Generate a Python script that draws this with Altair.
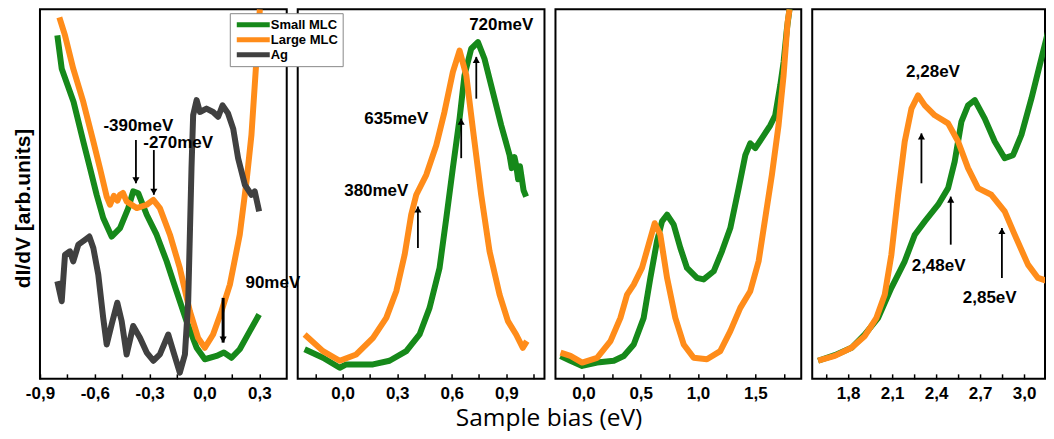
import altair as alt
import pandas as pd

# ---------------- data (y in arbitrary units 0..100) ----------------
# Panel 1
p1_small_x = [-0.805,-0.781,-0.716,-0.663,-0.626,-0.590,-0.554,-0.508,-0.462,-0.417,-0.390,-0.362,-0.316,-0.262,-0.207,-0.153,-0.098,-0.043,0.002,0.066,0.106,0.148,0.193,0.248,0.299]
p1_small_y = [92.9,83.9,74.9,64.2,57.0,49.8,43.5,38.5,40.8,46.2,50.7,50.2,44.4,39.0,31.8,23.7,15.6,8.4,5.3,6.2,7.1,5.7,8.0,12.9,17.4]
p1_large_x = [-0.794,-0.763,-0.718,-0.663,-0.608,-0.572,-0.535,-0.517,-0.496,-0.476,-0.462,-0.446,-0.426,-0.371,-0.316,-0.280,-0.244,-0.189,-0.135,-0.080,-0.035,0.002,0.047,0.093,0.139,0.193,0.230,0.257,0.275,0.293,0.303]
p1_large_y = [97.8,92.9,83.9,74.9,64.2,57.0,49.3,47.1,49.5,48.2,49.8,50.3,48.0,46.2,47.1,48.4,46.2,39.0,30.0,18.3,11.1,8.4,12.0,18.3,25.5,39.0,53.4,66.0,79.4,92.9,100.0]
p1_ag_x = [-0.805,-0.781,-0.763,-0.736,-0.718,-0.690,-0.654,-0.630,-0.608,-0.581,-0.554,-0.535,-0.508,-0.477,-0.453,-0.426,-0.390,-0.353,-0.316,-0.280,-0.244,-0.198,-0.171,-0.135,-0.107,-0.089,-0.071,-0.062,-0.043,-0.025,0.011,0.047,0.075,0.099,0.129,0.157,0.184,0.221,0.257,0.275,0.299]
p1_ag_y = [26.4,21.0,33.6,34.5,31.8,36.3,37.6,38.5,35.4,28.2,16.5,9.3,14.7,20.6,15.6,6.6,14.3,11.1,7.1,4.9,6.6,12.0,7.5,1.7,6.6,21.0,57.0,71.3,75.4,72.2,73.1,72.2,70.9,74.0,71.8,67.7,59.7,52.5,49.8,50.7,45.3]

# Panel 2
p2_small_x = [-0.209,-0.108,-0.016,0.020,0.167,0.258,0.350,0.423,0.478,0.533,0.570,0.606,0.643,0.670,0.707,0.744,0.780,0.826,0.872,0.918,0.930,0.945,0.954,0.965,0.975,0.982,0.995,1.009]
p2_small_y = [8.0,5.7,3.0,3.9,3.9,4.9,7.5,12.0,19.2,30.0,43.5,57.0,70.4,82.1,89.3,91.1,86.6,77.6,68.6,60.5,57.0,60.0,57.9,54.0,57.5,55.2,51.0,49.3]
p2_large_x = [-0.209,-0.108,-0.016,0.075,0.167,0.240,0.295,0.341,0.377,0.405,0.460,0.515,0.560,0.606,0.643,0.680,0.716,0.762,0.808,0.863,0.909,0.954,0.991,1.013]
p2_large_y = [12.0,7.5,4.9,6.6,11.1,16.5,23.7,33.6,44.4,49.8,55.2,63.2,72.2,83.0,88.8,82.1,67.7,49.8,34.5,22.8,15.6,12.0,8.4,10.2]

# Panel 3
p3_small_x = [-0.20,-0.113,-0.011,0.119,0.265,0.352,0.439,0.526,0.584,0.642,0.686,0.730,0.788,0.846,0.904,0.991,1.049,1.137,1.209,1.282,1.355,1.413,1.456,1.500,1.558,1.631,1.674,1.718,1.747,1.776,1.799]
p3_small_y = [6.2,4.9,3.5,4.4,4.9,6.2,9.3,16.5,27.3,37.2,42.6,44.4,41.7,35.4,30.0,27.3,26.9,29.1,34.5,40.8,51.6,60.5,63.7,62.4,65.1,68.6,71.3,79.4,85.7,94.7,100.1]
p3_large_x = [-0.20,-0.113,-0.011,0.119,0.236,0.323,0.381,0.439,0.511,0.569,0.622,0.671,0.730,0.802,0.875,0.962,1.078,1.194,1.282,1.369,1.456,1.529,1.587,1.645,1.703,1.747,1.782,1.799]
p3_large_y = [7.1,6.2,4.4,5.7,10.2,16.5,22.8,25.5,30.0,36.3,42.1,39.0,27.3,16.5,9.3,5.7,5.3,7.5,12.9,19.2,23.7,31.8,43.5,55.2,68.6,82.1,96.5,100.0]

# Panel 4
p4_small_x = [1.595,1.709,1.823,1.914,2.005,2.095,2.186,2.255,2.323,2.414,2.482,2.527,2.573,2.618,2.664,2.732,2.800,2.868,2.925,2.982,3.050,3.118,3.175]
p4_small_y = [4.9,6.4,8.4,12.0,16.5,24.6,31.8,39.0,42.6,47.1,51.6,58.8,69.6,74.0,75.4,70.4,64.2,59.7,60.5,66.0,75.8,86.6,95.6]
p4_large_x = [1.595,1.709,1.823,1.914,1.993,2.050,2.095,2.141,2.186,2.232,2.277,2.323,2.391,2.482,2.550,2.618,2.686,2.777,2.868,2.936,3.027,3.095,3.164,3.186]
p4_large_y = [4.9,6.2,8.4,11.6,16.5,22.8,33.6,49.8,64.2,73.1,76.7,74.0,71.3,69.1,64.2,57.0,51.6,49.8,45.3,39.0,30.9,27.3,26.4,28.2]

# annotations: arrows (x, tail y, tip y, thickness) and labels (x, y, text)
p1_arrow_x = [-0.375, -0.277, 0.102]
p1_arrow_tail = [64.6, 61.9, 21.9]
p1_arrow_tip = [52.9, 49.8, 9.8]
p1_arrow_w = [1.8, 1.8, 3.0]
p1_label_x = [-0.362, -0.144, 0.374]
p1_label_y = [68.5, 63.7, 26.0]
p1_label_t = ["-390meV", "-270meV", "90meV"]

p2_arrow_x = [0.414, 0.652, 0.735]
p2_arrow_tail = [35.4, 59.7, 75.8]
p2_arrow_tip = [46.6, 70.4, 87.1]
p2_arrow_w = [1.8, 1.8, 1.8]
p2_label_x = [0.185, 0.295, 0.872]
p2_label_y = [50.7, 70.4, 95.6]
p2_label_t = ["380meV", "635meV", "720meV"]

p4_arrow_x = [2.300, 2.500, 2.849]
p4_arrow_tail = [52.9, 36.3, 27.3]
p4_arrow_tip = [66.4, 49.3, 40.8]
p4_arrow_w = [1.8, 1.8, 1.8]
p4_label_x = [2.379, 2.417, 2.766]
p4_label_y = [83.0, 30.5, 21.9]
p4_label_t = ["2,28eV", "2,48eV", "2,85eV"]

series_names = ["Small MLC", "Large MLC", "Ag"]
series_colors = ["#16891a", "#ff8c1a", "#404040"]

# ---------------- helpers ----------------
color_scale = alt.Scale(domain=series_names, range=series_colors)
legend = alt.Legend(title=None, orient="none", legendX=190, legendY=4,
                    symbolType="M-5.5,0H5.5", symbolSize=36, symbolStrokeWidth=5,
                    symbolOffset=13, labelOffset=11, clipHeight=15,
                    labelFont="Liberation Sans", labelFontWeight="bold", labelFontSize=13,
                    labelColor="black", strokeColor="#888888", fillColor="white",
                    padding=4, rowPadding=0)

YSCALE = alt.Scale(domain=[0, 100], nice=False, zero=False)


def make_xaxis(ticks, step):
    expr = ("abs(datum.value/%g - round(datum.value/%g)) < 0.001 ? "
            "replace(replace(format(datum.value, '.1f'), '.', ','), '\u2212', '-') : ''") % (step, step)
    return alt.Axis(values=ticks, labelExpr=expr, title=None, offset=-5, tickSize=5,
                    tickWidth=1.5, tickColor="black", domain=False, grid=False,
                    labelFont="Liberation Sans", labelFontWeight="bold", labelFontSize=17,
                    labelColor="black", labelPadding=7, labelOverlap=False, labelFlush=False)


def panel(series, domain, ticks, step, width, arrows=None, labels=None, yaxis=None):
    X = alt.X("x:Q", scale=alt.Scale(domain=domain, nice=False, zero=False),
              axis=make_xaxis(ticks, step))
    yenc = alt.Y("y:Q", scale=YSCALE, axis=yaxis)
    layers = []
    for name, xs, ys in series:
        df = pd.DataFrame({"x": xs, "y": ys, "series": name})
        layers.append(alt.Chart(df).mark_line(strokeWidth=6, clip=True, strokeJoin="round").encode(
            x=X, y=yenc, color=alt.Color("series:N", scale=color_scale, legend=legend)))
    if arrows is not None:
        ax, at, ap, aw = arrows
        adf = pd.DataFrame({"x": ax, "y": at, "y2": ap, "w": aw})
        adf["up"] = [p > t for t, p in zip(at, ap)]
        adf["hy"] = [p - 0.8 if p > t else p + 0.8 for t, p in zip(at, ap)]
        for w in sorted(set(aw)):
            layers.append(alt.Chart(adf[adf["w"] == w]).mark_rule(color="black", strokeWidth=w).encode(
                x=X, y=yenc, y2="y2:Q"))
        for up in (True, False):
            sub = adf[adf["up"] == up]
            if len(sub):
                layers.append(alt.Chart(sub).mark_point(
                    filled=True, color="black", opacity=1, size=50,
                    shape="triangle-up" if up else "triangle-down").encode(
                    x=X, y=alt.Y("hy:Q", scale=YSCALE, axis=yaxis)))
    if labels is not None:
        lx, ly, lt = labels
        ldf = pd.DataFrame({"x": lx, "y": ly, "t": lt})
        layers.append(alt.Chart(ldf).mark_text(font="Liberation Sans", fontWeight="bold",
                                               fontSize=17, color="black").encode(
            x=X, y=yenc, text="t:N"))
    return alt.layer(*layers).properties(width=width, height=370)


def steps(a, b, s):
    n = int(round((b - a) / s))
    return [round(a + i * s, 4) + 0.0 for i in range(n + 1)]


yaxis1 = alt.Axis(title="dI/dV [arb.units]", labels=False, ticks=False, domain=False, grid=False,
                  titleFont="Liberation Sans", titleFontWeight="bold", titleFontSize=21,
                  titleColor="black", titlePadding=6, titleY=199)

c1 = panel([("Small MLC", p1_small_x, p1_small_y), ("Large MLC", p1_large_x, p1_large_y),
            ("Ag", p1_ag_x, p1_ag_y)],
           [-0.9, 0.45], steps(-0.9, 0.3, 0.15), 0.3, 247,
           arrows=(p1_arrow_x, p1_arrow_tail, p1_arrow_tip, p1_arrow_w),
           labels=(p1_label_x, p1_label_y, p1_label_t), yaxis=yaxis1)
c2 = panel([("Small MLC", p2_small_x, p2_small_y), ("Large MLC", p2_large_x, p2_large_y)],
           [-0.247, 1.110], steps(-0.15, 1.05, 0.15), 0.3, 247,
           arrows=(p2_arrow_x, p2_arrow_tail, p2_arrow_tip, p2_arrow_w),
           labels=(p2_label_x, p2_label_y, p2_label_t))
c3 = panel([("Small MLC", p3_small_x, p3_small_y), ("Large MLC", p3_large_x, p3_large_y)],
           [-0.244, 1.901], steps(0.0, 1.75, 0.25), 0.5, 246)
c4 = panel([("Small MLC", p4_small_x, p4_small_y), ("Large MLC", p4_large_x, p4_large_y)],
           [1.555, 3.143], steps(1.65, 3.0, 0.15), 0.3, 233,
           arrows=(p4_arrow_x, p4_arrow_tail, p4_arrow_tip, p4_arrow_w),
           labels=(p4_label_x, p4_label_y, p4_label_t))

chart = alt.hconcat(c1, c2, c3, c4, spacing=11, bounds="flush").properties(
    padding={"left": 4, "top": 0, "right": 0, "bottom": 0},
    title=alt.TitleParams("Sample bias (eV)", orient="bottom", anchor="middle",
                          font="Open Sans", fontSize=24.5, fontWeight="normal",
                          color="black", offset=4, dx=20),
).configure_view(stroke="black", strokeWidth=2)

chart.save("out.html", embed_options={"renderer": "svg", "actions": False})
